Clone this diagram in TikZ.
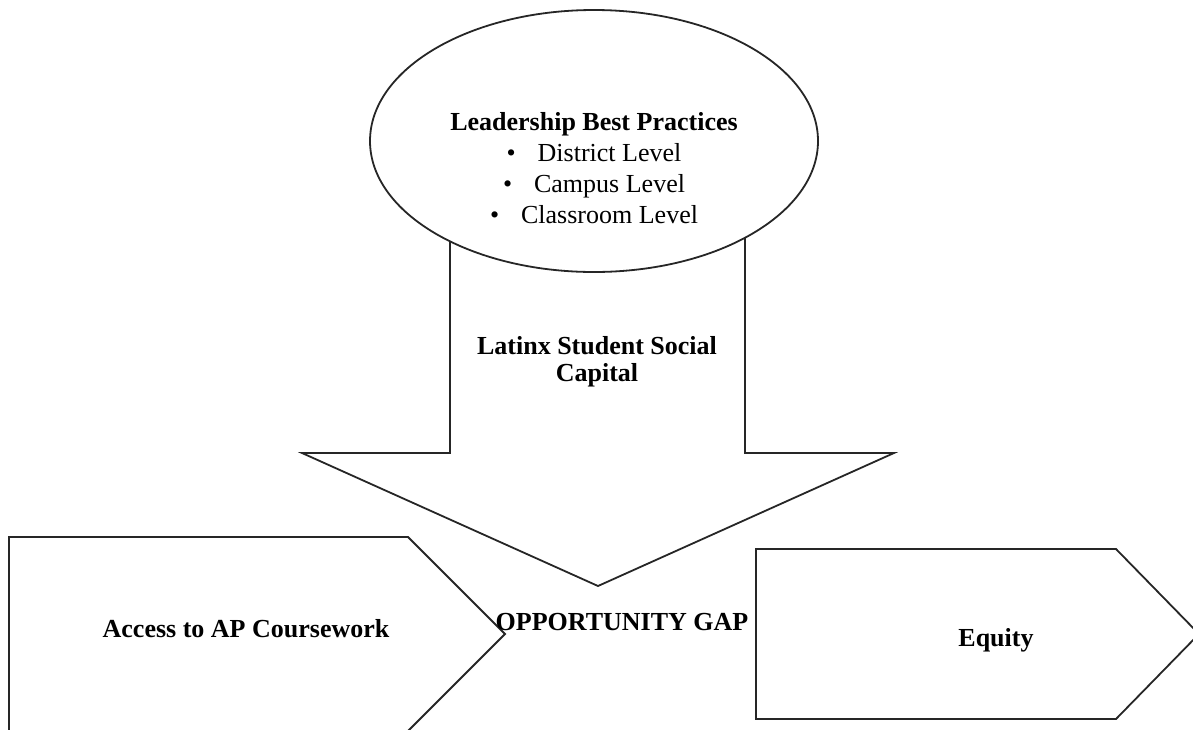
\documentclass[tikz,border=0pt]{standalone}
\usepackage{fontspec}
\setmainfont{Liberation Serif}
\usetikzlibrary{shapes.geometric}
\tikzset{
        outline/.style={draw=black!85, line width=0.9pt, fill=white, line join=miter}, % 所有框线的统一样式
        bold text/.style={font=\fontsize{13}{13.5}\selectfont\bfseries, inner sep=0pt, align=center},
        plain text/.style={font=\fontsize{13}{15.5}\selectfont, inner sep=0pt, align=center}
    }
\newcommand*\levelitem[1]{\textbullet\hspace{11pt}#1}

\begin{document}
\begin{tikzpicture}[
  x=0.5pt, y=-0.5pt,% 用像素坐标, y 轴向下
  oval node/.style={outline, ellipse, minimum width=224pt, minimum height=131pt, inner sep=0pt},
]
\useasboundingbox (0,0) rectangle (1193,729);
\clip (0,0) rectangle (1193,729);
% big down arrow, its top end hides under the oval
\draw[outline] (450,200) -- (450,453) -- (302,453) -- (598,586)
  -- (894,453) -- (745,453) -- (745,200) -- cycle;
\node[oval node] (lead oval) at (594,141) {};
\node[plain text] (lead text) at (594,168)
  {\textbf{Leadership Best Practices}\\
   \levelitem{District Level}\\
   \levelitem{Campus Level}\\
   \levelitem{Classroom Level}};
\node[bold text] (capital) at (597,362) {Latinx Student Social\\Capital};
% two pentagon arrows at the bottom
\draw[outline] (9,537) -- (408,537) -- (505,634) -- (408,731) -- (9,731) -- cycle;
\draw[outline] (756,549) -- (1116,549) -- (1199,634) -- (1116,719) -- (756,719) -- cycle;
\node[bold text, anchor=base] (access) at (246,637) {Access to AP Coursework};
\node[bold text, anchor=base] (gap) at (622,630) {OPPORTUNITY GAP};
\node[bold text, anchor=base] (equity) at (996,646) {Equity};
\end{tikzpicture}
\end{document}
